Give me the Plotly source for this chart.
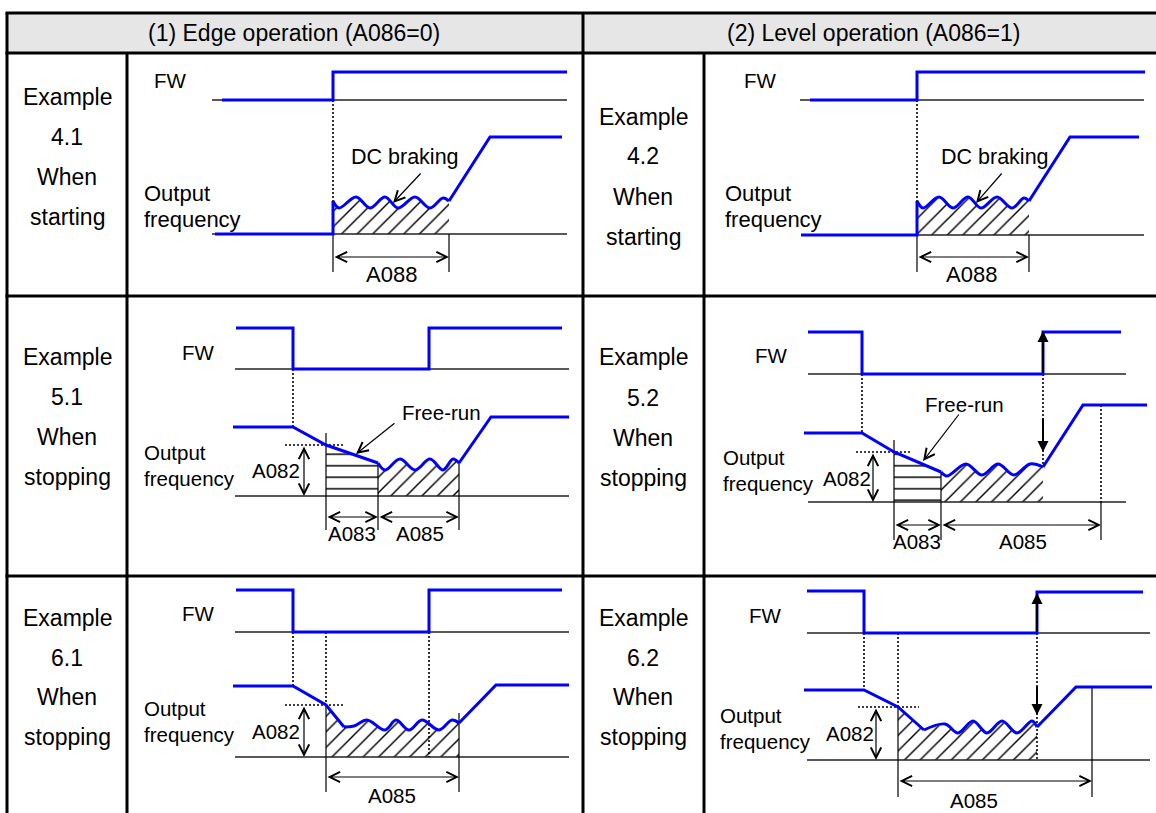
import plotly.graph_objects as go

BLUE = "#0000ff"
INK = "#000000"
FONT = "Liberation Sans, Arial, sans-serif"

# ---- table frame (page pixel grid) ----
frame_right = 1156
hline_y = [13, 53, 296, 576]
vline_x = [7, 583]
label_div_x = [127, 704]
header_texts = ["(1) Edge operation (A086=0)", "(2) Level operation (A086=1)"]
header_cx = [294, 873]
header_cy = 33

# ---- row captions ----
label_text = [["Example", "4.1", "When", "starting"],
              ["Example", "4.2", "When", "starting"],
              ["Example", "5.1", "When", "stopping"],
              ["Example", "5.2", "When", "stopping"],
              ["Example", "6.1", "When", "stopping"],
              ["Example", "6.2", "When", "stopping"]]
label_cx = [67, 643, 67, 643, 67, 643]
label_cy = [[97, 137, 177, 217], [117, 156, 197, 237],
            [357, 397, 437, 477], [357, 398, 438, 478],
            [618, 658, 697, 737], [618, 658, 697, 737]]

# ---- Example 4.1 ----
fw41_x = [222, 333, 333, 567]
fw41_y = [100, 100, 72, 72]
fwbase41 = [212, 567, 100]
run41_x = [215, 333, 333]
run41_y = [234, 234, 201]
wave41_x = [333, 339, 356, 370, 385, 398, 415, 430, 443, 449]
wave41_y = [201, 208, 197, 208, 197, 208, 197, 208, 198, 201]
ramp41_x = [449, 490, 562]
ramp41_y = [201, 137, 137]
outbase41 = [212, 567, 234]

# ---- Example 4.2 ----
fw42_x = [810, 917, 917, 1145]
fw42_y = [100, 100, 72, 72]
fwbase42 = [800, 1144, 100]
run42_x = [801, 917, 917]
run42_y = [235, 235, 201]
wave42_x = [917, 923, 939, 953, 968, 981, 997, 1012, 1024, 1029]
wave42_y = [201, 208, 197, 208, 197, 208, 197, 208, 198, 201]
ramp42_x = [1029, 1070, 1139]
ramp42_y = [201, 137, 137]
outbase42 = [801, 1144, 235]

# ---- Example 5.1 ----
fw51_x = [236, 293, 293, 429, 429, 562]
fw51_y = [328, 328, 369, 369, 328, 328]
fwbase51 = [235, 569, 369]
run51_x = [233, 293, 326, 378]
run51_y = [427, 427, 445, 463]
wave51_x = [378, 385, 400, 415, 430, 443, 453, 459]
wave51_y = [463, 470, 459, 470, 459, 470, 459, 463]
ramp51_x = [459, 491, 569]
ramp51_y = [463, 417, 417]
outbase51 = [235, 569, 496]

# ---- Example 5.2 ----
fw52_x = [808, 862, 862, 1043, 1043, 1121]
fw52_y = [332, 332, 374, 374, 332, 332]
fwbase52 = [808, 1126, 374]
run52_x = [804, 862, 894, 941]
run52_y = [433, 433, 452, 472]
wave52_x = [941, 947, 966, 982, 998, 1014, 1030, 1043]
wave52_y = [472, 476, 464, 475, 464, 475, 464, 467]
ramp52_x = [1043, 1083, 1147]
ramp52_y = [467, 405, 405]
outbase52 = [808, 1126, 502]

# ---- Example 6.1 ----
fw61_x = [236, 293, 293, 429, 429, 562]
fw61_y = [590, 590, 632, 632, 590, 590]
fwbase61 = [235, 569, 632]
run61_x = [233, 293, 326, 344]
run61_y = [686, 686, 705, 727]
wave61_x = [344, 354, 367, 385, 396, 409, 422, 439, 452, 459]
wave61_y = [727, 726, 720, 730, 720, 730, 720, 730, 720, 723]
ramp61_x = [459, 496, 569]
ramp61_y = [723, 685, 685]
outbase61 = [235, 569, 757]

# ---- Example 6.2 ----
fw62_x = [807, 864, 864, 1037, 1037, 1143]
fw62_y = [591, 591, 633, 633, 592, 592]
fwbase62 = [807, 1150, 633]
run62_x = [804, 864, 898, 924]
run62_y = [690, 690, 707, 730]
wave62_x = [924, 945, 958, 973, 987, 1002, 1017, 1032, 1037]
wave62_y = [730, 724, 733, 721, 733, 721, 733, 721, 727]
ramp62_x = [1037, 1076, 1152]
ramp62_y = [727, 687, 687]
outbase62 = [807, 1150, 760]

traces = []
notes = []


def line(xs, ys, color=INK, width=1.0, dash=None, shape="linear"):
    traces.append(go.Scatter(x=xs, y=ys, mode="lines", hoverinfo="skip",
                             line=dict(color=color, width=width, dash=dash, shape=shape, smoothing=1.0)))


def hatch(xs, ys, shape, size, solidity):
    traces.append(go.Scatter(x=xs, y=ys, mode="lines", fill="toself", hoverinfo="skip",
                             line=dict(width=0), fillcolor="white",
                             fillpattern=dict(shape=shape, size=size, solidity=solidity,
                                              fgcolor=INK, bgcolor="white", fillmode="replace")))


def text(x, y, s, size=21, anchor="center"):
    notes.append(dict(x=x, y=y, text=s, showarrow=False, xanchor=anchor, yanchor="middle",
                      font=dict(family=FONT, size=size, color=INK)))


def arrow(x0, y0, x1, y1, both=False, head=5, width=1.2, size=1.7):
    notes.append(dict(x=x1, y=y1, ax=x0, ay=y0, axref="x", ayref="y", text="", showarrow=True,
                      arrowhead=head, startarrowhead=head, arrowsize=size, startarrowsize=size,
                      arrowwidth=width, arrowcolor=INK,
                      arrowside="end+start" if both else "end"))


def base(b):
    line([b[0], b[1]], [b[2], b[2]], color="#222222", width=1.6)


def dotted(x, y0, y1):
    line([x, x], [y0, y1], width=1.6, dash="2px,2px")


def vdim(x, y0, y1):
    line([x, x], [y0, y1], width=1.2)


def waveform(fw_x, fw_y, run_x, run_y, wave_x, wave_y, ramp_x, ramp_y):
    line(fw_x, fw_y, BLUE, 3)
    line(run_x, run_y, BLUE, 3)
    line(wave_x, wave_y, BLUE, 3, shape="spline")
    line(ramp_x, ramp_y, BLUE, 3)


# ---- table ----
traces.append(go.Scatter(x=[vline_x[0], frame_right, frame_right, vline_x[0]],
                         y=[hline_y[0], hline_y[0], hline_y[1], hline_y[1]],
                         mode="lines", fill="toself", fillcolor="#e6e6e6",
                         line=dict(width=0), hoverinfo="skip"))
for hy in hline_y:
    line([vline_x[0] - 1.5, frame_right], [hy, hy], width=3)
for vx in vline_x:
    line([vx, vx], [hline_y[0], 813], width=3)
for vx in label_div_x:
    line([vx, vx], [hline_y[1], 813], width=3)
for s, cx in zip(header_texts, header_cx):
    text(cx, header_cy, s, size=23)
for words, cx, cys in zip(label_text, label_cx, label_cy):
    for w, cy in zip(words, cys):
        text(cx, cy, w, size=23)

# ---- hatched areas ----
DIAG, DSIZE, DSOL = "/", 11, 0.13
hatch(wave41_x + [449, 333], wave41_y + [234, 234], DIAG, DSIZE, DSOL)
hatch(wave42_x + [1029, 917], wave42_y + [235, 235], DIAG, DSIZE, DSOL)
hatch(run51_x[2:] + [378, 326], run51_y[2:] + [496, 496], "-", 11.5, 0.13)
hatch(wave51_x + [459, 378], wave51_y + [496, 496], DIAG, DSIZE, DSOL)
hatch(run52_x[2:] + [941, 894], run52_y[2:] + [502, 502], "-", 11.5, 0.13)
hatch(wave52_x + [1043, 941], wave52_y + [502, 502], DIAG, DSIZE, DSOL)
hatch(run61_x[2:] + wave61_x + [459, 326], run61_y[2:] + wave61_y + [757, 757], DIAG, DSIZE, DSOL)
hatch(run62_x[2:] + wave62_x + [1037, 898], run62_y[2:] + wave62_y + [760, 760], DIAG, DSIZE, DSOL)

# ---- baselines ----
for b in [fwbase41, outbase41, fwbase42, outbase42, fwbase51, outbase51,
          fwbase52, outbase52, fwbase61, outbase61, fwbase62, outbase62]:
    base(b)

# ---- dotted guides ----
dotted(333, 100, 234)
dotted(917, 100, 235)
dotted(293, 369, 427)
dotted(862, 374, 433)
dotted(1043, 374, 467)
dotted(1101, 405, 503)
dotted(293, 632, 687)
dotted(326, 632, 705)
dotted(429, 632, 757)
dotted(864, 633, 690)
dotted(898, 633, 707)
dotted(1037, 633, 760)
line([285, 345], [445, 445], width=1.5, dash="2px,2px")
line([856, 911], [452, 452], width=1.5, dash="2px,2px")
line([285, 345], [705, 705], width=1.5, dash="2px,2px")
line([858, 919], [707, 707], width=1.5, dash="2px,2px")

# ---- dimension extension lines ----
for x, y0, y1 in [[333, 234, 272], [449, 234, 272], [917, 235, 272], [1029, 235, 272],
                  [326, 433, 530], [378, 463, 530], [459, 463, 530],
                  [894, 440, 540], [941, 472, 540], [1101, 503, 540],
                  [326, 705, 792], [459, 713, 792], [898, 707, 797], [1092, 687, 797]]:
    vdim(x, y0, y1)

# ---- waveforms ----
waveform(fw41_x, fw41_y, run41_x, run41_y, wave41_x, wave41_y, ramp41_x, ramp41_y)
waveform(fw42_x, fw42_y, run42_x, run42_y, wave42_x, wave42_y, ramp42_x, ramp42_y)
waveform(fw51_x, fw51_y, run51_x, run51_y, wave51_x, wave51_y, ramp51_x, ramp51_y)
waveform(fw52_x, fw52_y, run52_x, run52_y, wave52_x, wave52_y, ramp52_x, ramp52_y)
waveform(fw61_x, fw61_y, run61_x, run61_y, wave61_x, wave61_y, ramp61_x, ramp61_y)
waveform(fw62_x, fw62_y, run62_x, run62_y, wave62_x, wave62_y, ramp62_x, ramp62_y)

# ---- dimension arrows and labels ----
arrow(333, 257, 449, 257, both=True)
text(391, 274, "A088", 22)
arrow(917, 257, 1029, 257, both=True)
text(971, 274, "A088", 22)

arrow(326, 517, 378, 517, both=True)
arrow(378, 517, 459, 517, both=True)
text(352, 533, "A083", 20.5)
text(420, 533, "A085", 20.5)
arrow(304, 445, 304, 496, both=True)
text(276, 470, "A082", 20.5)

arrow(894, 525, 941, 525, both=True)
arrow(941, 525, 1101, 525, both=True)
text(917, 541, "A083", 20.5)
text(1023, 541, "A085", 20.5)
arrow(873, 452, 873, 502, both=True)
text(847, 478, "A082", 20.5)

arrow(326, 777, 459, 777, both=True)
text(392, 795, "A085", 20.5)
arrow(304, 705, 304, 757, both=True)
text(276, 731, "A082", 20.5)

arrow(898, 781, 1092, 781, both=True)
text(974, 800, "A085", 20.5)
arrow(876, 707, 876, 760, both=True)
text(850, 733, "A082", 20.5)

# ---- level-operation markers ----
arrow(1043, 374, 1043, 331, head=2, width=2, size=1.1)
arrow(1043, 417, 1043, 452, head=2, width=2, size=1.1)
arrow(1037, 633, 1037, 593, head=2, width=2, size=1.1)
arrow(1037, 685, 1037, 715, head=2, width=2, size=1.1)

# ---- pointer callouts ----
text(405, 157, "DC braking", 21.5)
arrow(422, 172, 393, 203)
text(995, 157, "DC braking", 21.5)
arrow(1003, 172, 976, 203)
text(441, 412, "Free-run", 20.5)
arrow(396, 422, 356, 454)
text(964, 404, "Free-run", 20.5)
arrow(960, 413, 923, 461)

# ---- signal names ----
for x, y in [(170, 80), (760, 80), (198, 352), (771, 355), (198, 613), (765, 615)]:
    text(x, y, "FW", 20.5)
for x, y0, sz in [(142, 193, 22), (723, 193, 22), (142, 452, 20.5),
                  (721, 457, 20.5), (142, 708, 20.5), (718, 715, 20.5)]:
    text(x, y0, "Output", sz, anchor="left")
    text(x, y0 + 26, "frequency", sz, anchor="left")

fig = go.Figure(traces)
fig.update_layout(
    width=1156, height=813,
    margin=dict(l=0, r=0, t=0, b=0),
    paper_bgcolor="white", plot_bgcolor="white",
    showlegend=False,
    xaxis=dict(range=[0, 1156], visible=False, fixedrange=True),
    yaxis=dict(range=[813, 0], visible=False, fixedrange=True),
    annotations=notes,
)
fig.write_html("out.html", config={"displayModeBar": False},
               post_script="document.body.style.margin='0';")
